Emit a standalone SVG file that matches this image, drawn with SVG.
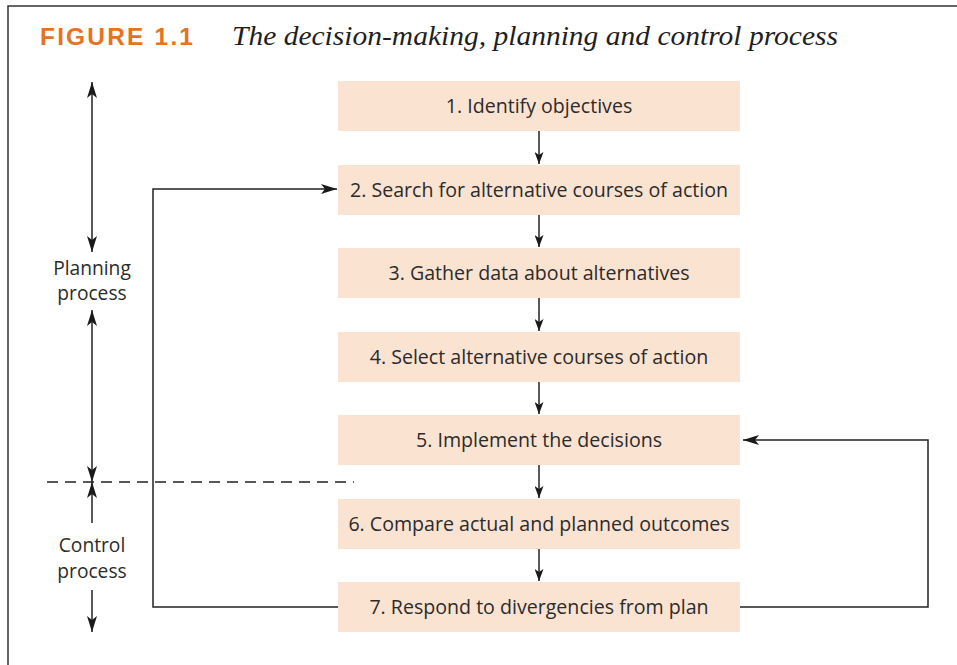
<svg xmlns="http://www.w3.org/2000/svg" width="957" height="665" viewBox="0 0 957 665">
  <style>
    .frame { fill: none; stroke: #333; stroke-width: 1.5; }
    .box rect { fill: #FBE3D2; }
    .box text { font-family: "Open Sans", "Noto Sans", sans-serif; font-size: 19.6px; fill: #2b2b2b; text-anchor: middle; }
    .side { font-family: "Open Sans", "Noto Sans", sans-serif; font-size: 19.2px; fill: #2b2b2b; text-anchor: middle; }
    .conn { fill: none; stroke: #222; stroke-width: 1.5; }
    .dash { fill: none; stroke: #222; stroke-width: 1.3; stroke-dasharray: 11 7; }
  </style>
  <defs>
    <marker id="arr" viewBox="0 0 16 10" refX="16" refY="5" markerWidth="16" markerHeight="10" markerUnits="userSpaceOnUse" orient="auto-start-reverse">
      <path d="M0,0 L16,5 L0,10 L4,5 Z" fill="#1a1a1a"/>
    </marker>
    <marker id="arrs" viewBox="0 0 12 9" refX="12" refY="4.5" markerWidth="12" markerHeight="9" markerUnits="userSpaceOnUse" orient="auto-start-reverse">
      <path d="M0,0 L12,4.5 L0,9 L3,4.5 Z" fill="#1a1a1a"/>
    </marker>
  </defs>

  <rect width="957" height="665" fill="#fff"/>
  <!-- figure frame -->
  <path class="frame" d="M8,665 V6 H957"/>

  <!-- heading -->
  <text x="40" y="45" font-family="'Liberation Sans', Arial, sans-serif" font-weight="bold" font-size="24.5" fill="#E57320" textLength="153" lengthAdjust="spacing">FIGURE 1.1</text>
  <text x="232" y="45" font-family="'Liberation Serif', 'Times New Roman', serif" font-style="italic" font-size="28" fill="#1f1f1f" textLength="606" lengthAdjust="spacingAndGlyphs">The decision-making, planning and control process</text>

  <!-- process steps -->
  <g id="step1" class="box"><rect x="338" y="81" width="402" height="50"/><text x="539" y="113">1. Identify objectives</text></g>
  <g id="step2" class="box"><rect x="338" y="165" width="402" height="50"/><text x="539" y="197">2. Search for alternative courses of action</text></g>
  <g id="step3" class="box"><rect x="338" y="248" width="402" height="50"/><text x="539" y="280">3. Gather data about alternatives</text></g>
  <g id="step4" class="box"><rect x="338" y="332" width="402" height="50"/><text x="539" y="364">4. Select alternative courses of action</text></g>
  <g id="step5" class="box"><rect x="338" y="415" width="402" height="50"/><text x="539" y="447">5. Implement the decisions</text></g>
  <g id="step6" class="box"><rect x="338" y="499" width="402" height="50"/><text x="539" y="531">6. Compare actual and planned outcomes</text></g>
  <g id="step7" class="box"><rect x="338" y="582" width="402" height="50"/><text x="539" y="614">7. Respond to divergencies from plan</text></g>

  <!-- side labels -->
  <g id="planning-label">
    <text class="side" x="92" y="275">Planning</text>
    <text class="side" x="92" y="300">process</text>
  </g>
  <g id="control-label">
    <text class="side" x="92" y="552">Control</text>
    <text class="side" x="92" y="578">process</text>
  </g>

  <!-- connectors -->
  <g id="connectors">
    <line class="conn" x1="539" y1="131" x2="539" y2="164" marker-end="url(#arrs)"/>
    <line class="conn" x1="539" y1="215" x2="539" y2="247" marker-end="url(#arrs)"/>
    <line class="conn" x1="539" y1="298" x2="539" y2="331" marker-end="url(#arrs)"/>
    <line class="conn" x1="539" y1="382" x2="539" y2="414" marker-end="url(#arrs)"/>
    <line class="conn" x1="539" y1="465" x2="539" y2="498" marker-end="url(#arrs)"/>
    <line class="conn" x1="539" y1="549" x2="539" y2="581" marker-end="url(#arrs)"/>

    <!-- feedback loops -->
    <polyline class="conn" points="338,607 153,607 153,189 337,189" marker-end="url(#arr)"/>
    <polyline class="conn" points="740,607 928,607 928,440 743,440" marker-end="url(#arr)"/>

    <!-- planning / control extents -->
    <line class="conn" x1="92" y1="82" x2="92" y2="252" marker-start="url(#arr)" marker-end="url(#arr)"/>
    <line class="conn" x1="92" y1="310" x2="92" y2="482" marker-start="url(#arr)" marker-end="url(#arr)"/>
    <line class="conn" x1="92" y1="523" x2="92" y2="482" marker-end="url(#arr)"/>
    <line class="conn" x1="92" y1="590" x2="92" y2="632" marker-end="url(#arr)"/>
    <line class="dash" x1="47" y1="482" x2="354" y2="482"/>
  </g>
</svg>
